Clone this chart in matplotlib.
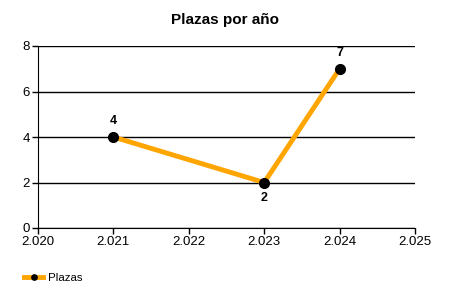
import matplotlib
matplotlib.use("Agg")
import matplotlib.pyplot as plt
from matplotlib.ticker import FuncFormatter

plt.rcParams['font.family'] = ['Liberation Sans', 'DejaVu Sans']

years = [2021, 2023, 2024]
plazas = [4, 2, 7]
label_pos = ['above', 'below', 'above']
series_name = 'Plazas'
title = 'Plazas por año'

fig = plt.figure(figsize=(4.5, 3), dpi=100)
ax = fig.add_axes([38/450, 1 - 228/300, (415 - 38)/450, (228 - 46)/300])

ax.plot(years, plazas, color='#FFA500', lw=3.5, marker='o', ms=7,
        mfc='black', mec='black', label=series_name, zorder=3, clip_on=False)

for x, y, p in zip(years, plazas, label_pos):
    dy = 7 if p == 'above' else -7
    ax.annotate(str(y), (x, y), xytext=(0, dy), textcoords='offset points',
                ha='center', va='bottom' if p == 'above' else 'top',
                fontsize=9, fontweight='bold')

ax.set_xlim(2020, 2025)
ax.set_ylim(0, 8)
ax.set_yticks(range(0, 9, 2))
ax.set_xticks(range(2020, 2026))
ax.xaxis.set_major_formatter(FuncFormatter(lambda v, _: f"{v/1000:.3f}"))
ax.yaxis.grid(True, color='black', lw=1)
ax.set_axisbelow(True)
for s in ['top', 'right']:
    ax.spines[s].set_visible(False)
ax.tick_params(labelsize=9.5, length=4, width=1, pad=2)

fig.text(0.5, 1 - 20/300, title, ha='center', va='center',
         fontsize=11, fontweight='bold')

fig.legend(loc='center left', bbox_to_anchor=(0.03, 1 - 278/300), frameon=False,
           fontsize=8.25, handlelength=1.7, handletextpad=0.4, markerscale=0.55)

fig.savefig('out.png', dpi=100)
